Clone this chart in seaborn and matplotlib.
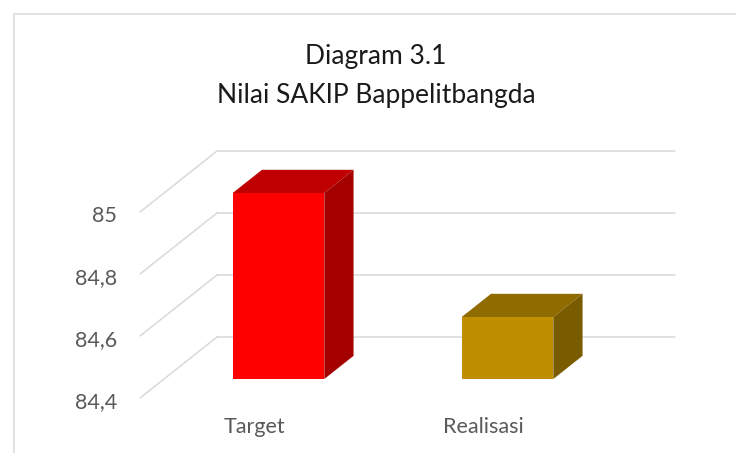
import pandas as pd
import seaborn as sns
import matplotlib
import matplotlib.pyplot as plt
from matplotlib.patches import Polygon, Rectangle

matplotlib.use('Agg')

categories = ['Target', 'Realisasi']
values = [85.0, 84.6]
yticks = [84.4, 84.6, 84.8, 85.0]
ytick_labels = ['84,4', '84,6', '84,8', '85']
title_lines = ['Diagram 3.1', 'Nilai SAKIP Bappelitbangda']

front_colors = ['#FF0000', '#BF8F00']
top_colors = ['#C00000', '#8F6B00']
side_colors = ['#A50000', '#7A5C00']
grid_color = '#d9d9d9'
label_color = '#595959'

sns.set_style('white')
plt.rcParams['font.family'] = ['Lato', 'DejaVu Sans']

W, H = 736, 453
fig = plt.figure(figsize=(W / 100, H / 100), dpi=100)

# axes = the plane of the bars' front faces (pixel box)
x0, x1 = 164, 622
y_bot, y_top = 379, 193
ax = fig.add_axes([x0 / W, 1 - y_bot / H, (x1 - x0) / W, (y_bot - y_top) / H])

df = pd.DataFrame({'kategori': categories, 'nilai': values})
sns.barplot(data=df, x='kategori', y='nilai', hue='kategori', palette=front_colors,
            width=0.4, saturation=1, legend=False, linewidth=0, ax=ax)
ymin, ymax = yticks[0], yticks[-1]
ax.set_ylim(ymin, ymax)
ax.set_xlim(-0.5, len(categories) - 0.5)
ax.set(xticks=[], yticks=[], xlabel='', ylabel='')
ax.patch.set_alpha(0)
sns.despine(ax=ax, left=True, bottom=True)

# depth of the 3d box in data units
sx = (x1 - x0) / len(categories)
sy = (y_bot - y_top) / (ymax - ymin)
Dx, Dy = 77 / sx, 61 / sy
f_front, f_bar = 0.31, 0.38
f_back = 1 - f_front
xl, xr = -0.5, len(categories) - 0.5

for t in yticks:
    ax.plot([xl + f_back * Dx, xr + f_back * Dx], [t + f_back * Dy] * 2,
            color=grid_color, lw=1.1, clip_on=False, zorder=0)
    ax.plot([xl - f_front * Dx, xl + f_back * Dx], [t - f_front * Dy, t + f_back * Dy],
            color=grid_color, lw=1.1, clip_on=False, zorder=0)

bars = sorted(ax.patches, key=lambda p: p.get_x())
bdx, bdy = f_bar * Dx, f_bar * Dy
for p, tc, sc in zip(bars, top_colors, side_colors):
    bx, bw = p.get_x(), p.get_width()
    top = p.get_y() + p.get_height()
    ax.add_patch(Polygon([(bx, top), (bx + bw, top), (bx + bw + bdx, top + bdy), (bx + bdx, top + bdy)],
                         closed=True, fc=tc, ec='none', clip_on=False, zorder=3))
    ax.add_patch(Polygon([(bx + bw, ymin), (bx + bw, top), (bx + bw + bdx, top + bdy), (bx + bw + bdx, ymin + bdy)],
                         closed=True, fc=sc, ec='none', clip_on=False, zorder=3))

for t, lab in zip(yticks, ytick_labels):
    ax.annotate(lab, xy=(xl - f_front * Dx, t - f_front * Dy), xytext=(-23, -10),
                textcoords='offset pixels', ha='right', va='baseline',
                fontsize=15.5, color=label_color, annotation_clip=False)

for i, cat in enumerate(categories):
    ax.annotate(cat, xy=(i - f_front * Dx, ymin - f_front * Dy), xytext=(0, -35),
                textcoords='offset pixels', ha='center', va='baseline',
                fontsize=15.5, color=label_color, annotation_clip=False)

fig.text(376 / W, 1 - 64 / H, title_lines[0], ha='center', va='baseline', fontsize=19, color='#1a1a1a')
fig.text(376 / W, 1 - 103 / H, title_lines[1], ha='center', va='baseline', fontsize=19, color='#1a1a1a')

fig.add_artist(Rectangle((13.5 / W, -0.05), 1.1, 1.05 - 14 / H, transform=fig.transFigure,
                         fill=False, ec=grid_color, lw=1.1))

fig.savefig('out.png', dpi=100)
